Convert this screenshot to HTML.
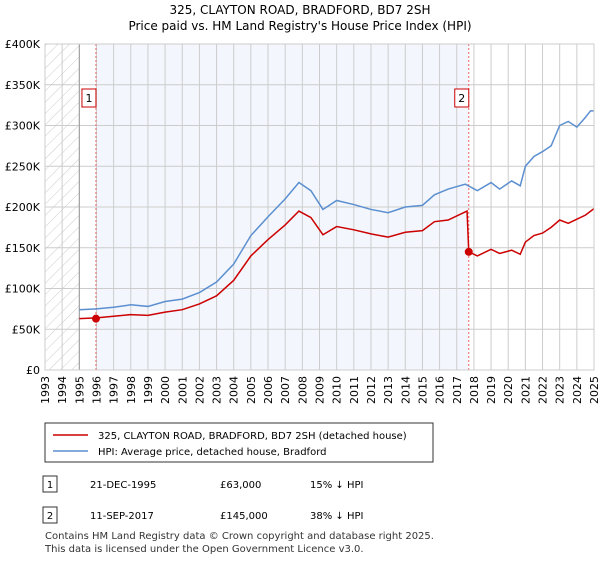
<!DOCTYPE html>
<html><head><meta charset="utf-8"><style>
body{margin:0;background:#fff;font-family:"DejaVu Sans","Liberation Sans",sans-serif;}
svg text{font-family:"DejaVu Sans","Liberation Sans",sans-serif;}
</style></head><body>
<svg id="c" width="600" height="560" xmlns="http://www.w3.org/2000/svg">
<defs><pattern id="h" width="8" height="8" patternUnits="userSpaceOnUse" patternTransform="rotate(45)"><line x1="0" y1="0" x2="0" y2="8" stroke="#ccc" stroke-width="1"/></pattern></defs>
<text x="300" y="14" text-anchor="middle" font-size="12">325, CLAYTON ROAD, BRADFORD, BD7 2SH</text>
<text x="300" y="30" text-anchor="middle" font-size="12">Price paid vs. HM Land Registry's House Price Index (HPI)</text>
<g id="plot"></g>
<g>
<rect x="45" y="423" width="388" height="39" fill="#fff" stroke="#333"/>
<line x1="53" y1="435" x2="88" y2="435" stroke="#cc0000" stroke-width="1.5"/>
<text x="98" y="439" font-size="10">325, CLAYTON ROAD, BRADFORD, BD7 2SH (detached house)</text>
<line x1="53" y1="451" x2="88" y2="451" stroke="#5b8fd0" stroke-width="1.5"/>
<text x="98" y="455" font-size="10">HPI: Average price, detached house, Bradford</text>
</g>
<g font-size="10">
<rect x="43" y="476" width="14" height="16" fill="#fff" stroke="#333"/><text x="50" y="488" text-anchor="middle">1</text>
<text x="90" y="488">21-DEC-1995</text><text x="220" y="488">£63,000</text><text x="310" y="488">15% ↓ HPI</text>
<rect x="43" y="507" width="14" height="16" fill="#fff" stroke="#333"/><text x="50" y="519" text-anchor="middle">2</text>
<text x="90" y="519">11-SEP-2017</text><text x="220" y="519">£145,000</text><text x="310" y="519">38% ↓ HPI</text>
</g>
<text x="45" y="539" font-size="10" fill="#333">Contains HM Land Registry data © Crown copyright and database right 2025.</text>
<text x="45" y="552" font-size="10" fill="#333">This data is licensed under the Open Government Licence v3.0.</text>
</svg>
<script>
const hpiYears=[1995,1996,1997,1998,1999,2000,2001,2002,2003,2004,2005,2006,2007,2007.8,2008.5,2009.2,2010,2011,2012,2013,2014,2015,2015.7,2016.5,2017.5,2018.2,2019,2019.5,2020.2,2020.7,2021,2021.5,2022,2022.5,2023,2023.5,2024,2024.5,2024.8,2025];
const hpiValues=[74,75,77,80,78,84,87,95,108,130,165,188,210,230,220,197,208,203,197,193,200,202,215,222,228,220,230,222,232,226,250,262,268,275,300,305,298,310,318,318];
const priceYears=[1995,1996,1997,1998,1999,2000,2001,2002,2003,2004,2005,2006,2007,2007.8,2008.5,2009.2,2010,2011,2012,2013,2014,2015,2015.7,2016.5,2017.6,2017.7,2018.2,2019,2019.5,2020.2,2020.7,2021,2021.5,2022,2022.5,2023,2023.5,2024,2024.5,2025];
const priceValues=[63,64,66,68,67,71,74,81,91,110,140,160,178,195,187,166,176,172,167,163,169,171,182,184,195,145,140,148,143,147,142,157,165,168,175,184,180,185,190,198];
const saleYears=[1995.97,2017.7];
const saleValues=[63,145];
const saleLabels=["1","2"];
const yTicks=[0,50,100,150,200,250,300,350,400];
const yTickLabels=["£0","£50K","£100K","£150K","£200K","£250K","£300K","£350K","£400K"];
const X0=45,X1=594,Y0=370,Y1=44;
const x=y=>X0+(y-1993)/32*(X1-X0);
const yy=v=>Y0-v/400*(Y0-Y1);
const g=document.getElementById('plot');
const NS='http://www.w3.org/2000/svg';
function el(t,a,p){const e=document.createElementNS(NS,t);for(const k in a)e.setAttribute(k,a[k]);(p||g).appendChild(e);return e;}
let r=el('rect',{x:x(1993),y:Y1,width:x(1995)-x(1993),height:Y0-Y1,fill:'url(#h)'});


r=el('rect',{x:x(saleYears[0]),y:Y1,width:x(saleYears[1])-x(saleYears[0]),height:Y0-Y1,fill:'#eef3fc',opacity:0.7});


for(let yr=1993;yr<=2025;yr++){
 el('line',{x1:x(yr),x2:x(yr),y1:Y1,y2:Y0,stroke:'#ccc'});
 const t=el('text',{x:0,y:0,'font-size':11,'text-anchor':'end',transform:`translate(${x(yr)+4},${Y0+6}) rotate(-90)`});
 t.textContent=yr;
 
 
}
yTicks.forEach((v,i)=>{
 el('line',{x1:X0,x2:X1,y1:yy(v),y2:yy(v),stroke:'#ccc'});
 const t=el('text',{x:X0-5,y:yy(v)+4,'font-size':11,'text-anchor':'end'});
 t.textContent=yTickLabels[i];
 
 
});
el('line',{x1:x(1995),x2:x(1995),y1:Y1,y2:Y0,stroke:'#999'});
saleYears.forEach((s,i)=>{
 el('line',{x1:x(s),x2:x(s),y1:Y1,y2:Y0,stroke:'#e66','stroke-dasharray':'2,2'});
 const b=el('rect',{x:x(s)-14,y:89,width:14,height:18,fill:'#fff',stroke:'#cc0000'});
 
 
 const t=el('text',{x:x(s)-7,y:102,'font-size':11,'text-anchor':'middle'});
 t.textContent=saleLabels[i];
});
function line(xs,vs,c,n){
 const p=el('polyline',{points:xs.map((a,i)=>x(a)+','+yy(vs[i])).join(' '),fill:'none',stroke:c,'stroke-width':1.5});
 
 
}
line(hpiYears,hpiValues,'#5b8fd0','hpi-line');
line(priceYears,priceValues,'#cc0000','price-line');
saleYears.forEach((s,i)=>{
 const c=el('circle',{cx:x(s),cy:yy(saleValues[i]),r:4,fill:'#cc0000'});
 
 
});
el('rect',{x:X0,y:Y1,width:X1-X0,height:Y0-Y1,fill:'none',stroke:'#ccc'});
</script>
</body></html>
